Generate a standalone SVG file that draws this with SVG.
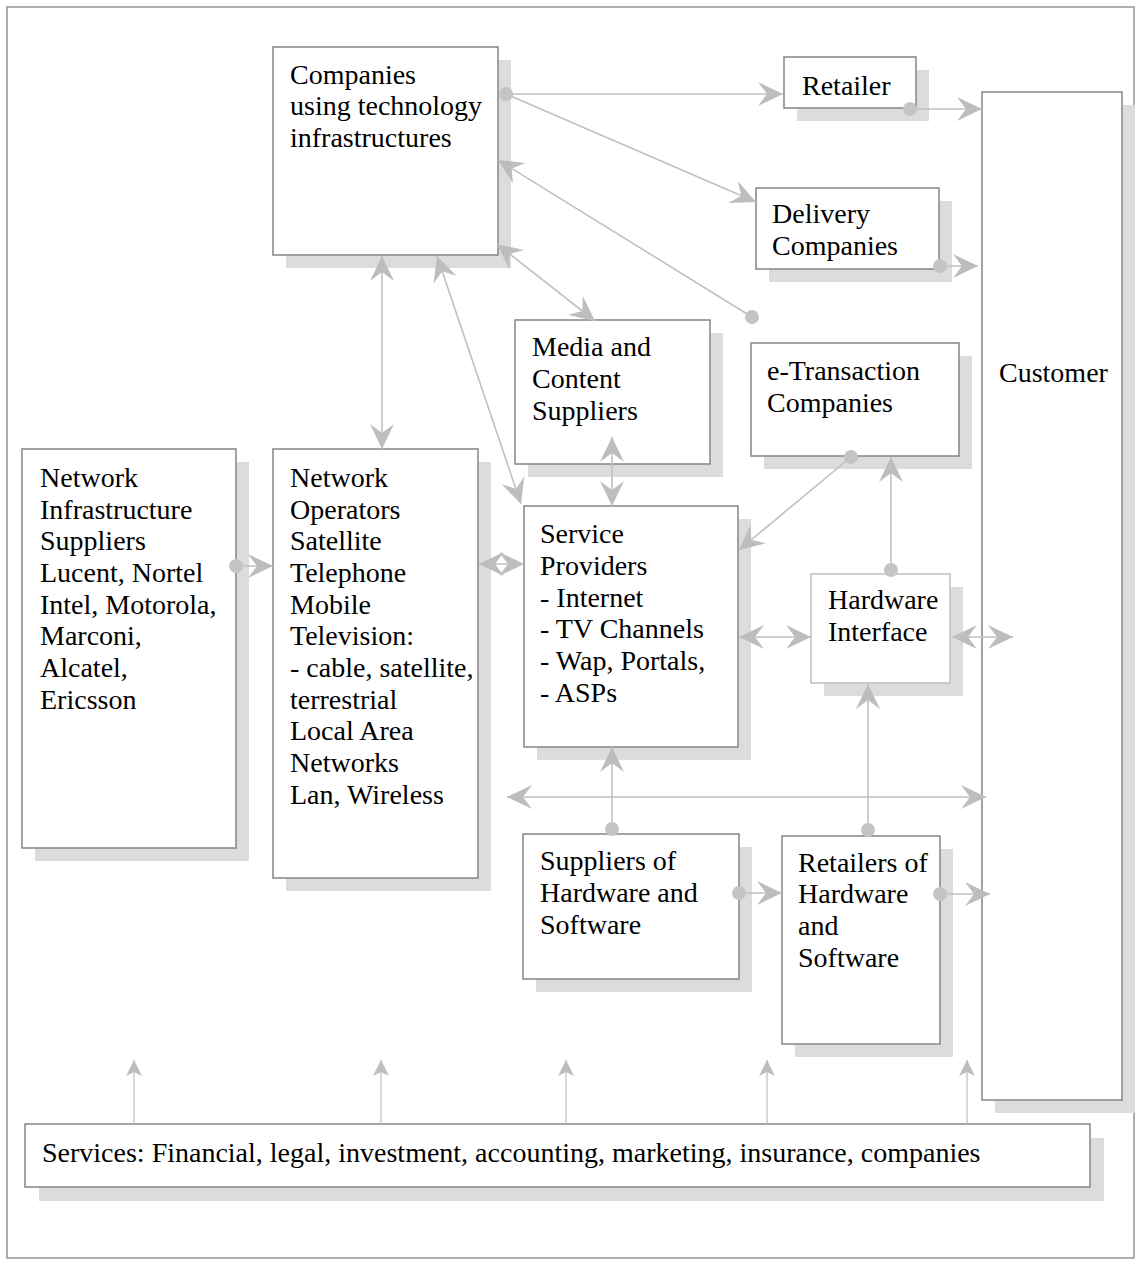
<svg xmlns="http://www.w3.org/2000/svg" width="1140" height="1261" viewBox="0 0 1140 1261">
  <style>
    .box { fill: #ffffff; stroke: #8c8c8c; stroke-width: 1.6; }
    .box.light { stroke: #c2c2c2; }
    .shadow { fill: #dcdcdc; stroke: none; }
    .t { font-family: "Liberation Serif", "Times New Roman", serif; font-size: 28px; fill: #000000; }
    .ln { stroke: #c0c0c0; stroke-width: 1.6; fill: none; }
    .one { marker-end: url(#ah); }
    .two { marker-start: url(#ah); marker-end: url(#ah); }
    .up { stroke-width: 1.2; marker-end: url(#ahs); }
    .dot { fill: #c4c4c4; }
  </style>
  <defs>
    <marker id="ah" viewBox="-26 -14 28 28" refX="0" refY="0" markerWidth="28" markerHeight="28" markerUnits="userSpaceOnUse" orient="auto-start-reverse">
      <path d="M0,0 L-25,-12 L-16,0 L-25,12 Z" fill="#bdbdbd"/>
    </marker>
    <marker id="ahs" viewBox="-18 -10 20 20" refX="0" refY="0" markerWidth="20" markerHeight="20" markerUnits="userSpaceOnUse" orient="auto">
      <path d="M0,0 L-16,-8 L-12,0 L-16,8 Z" fill="#bdbdbd"/>
    </marker>
  </defs>

  <!-- outer frame -->
  <rect x="7" y="7" width="1127" height="1251" fill="#ffffff" stroke="#9a9a9a" stroke-width="1.6"/>

  <g id="companies">
    <rect class="shadow" x="286" y="60" width="225" height="208"/>
    <rect class="box" x="273" y="47" width="225" height="208"/>
    <text class="t" x="290" y="84">Companies</text>
    <text class="t" x="290" y="115">using technology</text>
    <text class="t" x="290" y="147">infrastructures</text>
  </g>

  <g id="retailer">
    <rect class="shadow" x="797" y="70" width="132" height="51"/>
    <rect class="box" x="784" y="57" width="132" height="51"/>
    <text class="t" x="802" y="95">Retailer</text>
  </g>

  <g id="delivery">
    <rect class="shadow" x="769" y="201" width="183" height="81"/>
    <rect class="box" x="756" y="188" width="183" height="81"/>
    <text class="t" x="772" y="223">Delivery</text>
    <text class="t" x="772" y="255">Companies</text>
  </g>

  <g id="customer">
    <rect class="shadow" x="995" y="105" width="140" height="1008"/>
    <rect class="box" x="982" y="92" width="140" height="1008"/>
    <text class="t" x="999" y="382">Customer</text>
  </g>

  <g id="media">
    <rect class="shadow" x="528" y="333" width="195" height="144"/>
    <rect class="box" x="515" y="320" width="195" height="144"/>
    <text class="t" x="532" y="356">Media and</text>
    <text class="t" x="532" y="388">Content</text>
    <text class="t" x="532" y="420">Suppliers</text>
  </g>

  <g id="etransaction">
    <rect class="shadow" x="764" y="356" width="208" height="113"/>
    <rect class="box" x="751" y="343" width="208" height="113"/>
    <text class="t" x="767" y="380">e-Transaction</text>
    <text class="t" x="767" y="412">Companies</text>
  </g>

  <g id="network-infrastructure">
    <rect class="shadow" x="35" y="462" width="214" height="399"/>
    <rect class="box" x="22" y="449" width="214" height="399"/>
    <text class="t" x="40" y="487">Network</text>
    <text class="t" x="40" y="519">Infrastructure</text>
    <text class="t" x="40" y="550">Suppliers</text>
    <text class="t" x="40" y="582">Lucent, Nortel</text>
    <text class="t" x="40" y="614">Intel, Motorola,</text>
    <text class="t" x="40" y="645">Marconi,</text>
    <text class="t" x="40" y="677">Alcatel,</text>
    <text class="t" x="40" y="709">Ericsson</text>
  </g>

  <g id="network-operators">
    <rect class="shadow" x="286" y="462" width="205" height="429"/>
    <rect class="box" x="273" y="449" width="205" height="429"/>
    <text class="t" x="290" y="487">Network</text>
    <text class="t" x="290" y="519">Operators</text>
    <text class="t" x="290" y="550">Satellite</text>
    <text class="t" x="290" y="582">Telephone</text>
    <text class="t" x="290" y="614">Mobile</text>
    <text class="t" x="290" y="645">Television:</text>
    <text class="t" x="290" y="677">- cable, satellite,</text>
    <text class="t" x="290" y="709">terrestrial</text>
    <text class="t" x="290" y="740">Local Area</text>
    <text class="t" x="290" y="772">Networks</text>
    <text class="t" x="290" y="804">Lan, Wireless</text>
  </g>

  <g id="service-providers">
    <rect class="shadow" x="537" y="519" width="214" height="241"/>
    <rect class="box" x="524" y="506" width="214" height="241"/>
    <text class="t" x="540" y="543">Service</text>
    <text class="t" x="540" y="575">Providers</text>
    <text class="t" x="540" y="607">- Internet</text>
    <text class="t" x="540" y="638">- TV Channels</text>
    <text class="t" x="540" y="670">- Wap, Portals,</text>
    <text class="t" x="540" y="702">- ASPs</text>
  </g>

  <g id="hardware-interface">
    <rect class="shadow" x="824" y="587" width="139" height="109"/>
    <rect class="box light" x="811" y="574" width="139" height="109"/>
    <text class="t" x="828" y="609">Hardware</text>
    <text class="t" x="828" y="641">Interface</text>
  </g>

  <g id="hw-sw-suppliers">
    <rect class="shadow" x="536" y="847" width="216" height="145"/>
    <rect class="box" x="523" y="834" width="216" height="145"/>
    <text class="t" x="540" y="870">Suppliers of</text>
    <text class="t" x="540" y="902">Hardware and</text>
    <text class="t" x="540" y="934">Software</text>
  </g>

  <g id="hw-sw-retailers">
    <rect class="shadow" x="795" y="849" width="158" height="208"/>
    <rect class="box" x="782" y="836" width="158" height="208"/>
    <text class="t" x="798" y="872">Retailers of</text>
    <text class="t" x="798" y="903">Hardware</text>
    <text class="t" x="798" y="935">and</text>
    <text class="t" x="798" y="967">Software</text>
  </g>

  <g id="services">
    <rect class="shadow" x="39" y="1138" width="1065" height="63"/>
    <rect class="box" x="25" y="1124" width="1065" height="63"/>
    <text class="t" x="42" y="1162">Services: Financial, legal, investment, accounting, marketing, insurance, companies</text>
  </g>

  <g id="connectors">
    <!-- from companies using technology -->
    <line class="ln one" x1="506" y1="94" x2="783" y2="94"/>
    <line class="ln one" x1="506" y1="94" x2="756" y2="202"/>
    <line class="ln one" x1="752" y1="317" x2="498" y2="160"/>
    <line class="ln two" x1="497" y1="244" x2="595" y2="321"/>
    <line class="ln two" x1="382" y1="256" x2="382" y2="449"/>
    <line class="ln two" x1="437" y1="256" x2="521" y2="504"/>
    <line class="ln two" x1="612" y1="437" x2="612" y2="506"/>
    <circle class="dot" cx="506" cy="94" r="7"/>
    <circle class="dot" cx="752" cy="317" r="7"/>

    <!-- into customer -->
    <line class="ln one" x1="910" y1="109" x2="982" y2="109"/>
    <circle class="dot" cx="910" cy="109" r="7"/>
    <line class="ln one" x1="940" y1="266" x2="978" y2="266"/>
    <circle class="dot" cx="940" cy="266" r="7"/>

    <!-- middle row -->
    <line class="ln one" x1="236" y1="566" x2="273" y2="566"/>
    <circle class="dot" cx="236" cy="566" r="7"/>
    <line class="ln two" x1="479" y1="564" x2="524" y2="564"/>
    <line class="ln one" x1="851" y1="457" x2="739" y2="550"/>
    <circle class="dot" cx="851" cy="457" r="7"/>
    <line class="ln one" x1="891" y1="570" x2="891" y2="457"/>
    <circle class="dot" cx="891" cy="570" r="7"/>
    <line class="ln two" x1="739" y1="637" x2="811" y2="637"/>
    <line class="ln two" x1="952" y1="637" x2="1013" y2="637"/>
    <line class="ln two" x1="507" y1="797" x2="986" y2="797"/>

    <!-- hardware and software -->
    <line class="ln one" x1="612" y1="829" x2="612" y2="747"/>
    <circle class="dot" cx="612" cy="829" r="7"/>
    <line class="ln one" x1="868" y1="830" x2="868" y2="684"/>
    <circle class="dot" cx="868" cy="830" r="7"/>
    <line class="ln one" x1="739" y1="893" x2="782" y2="893"/>
    <circle class="dot" cx="739" cy="893" r="7"/>
    <line class="ln one" x1="940" y1="894" x2="990" y2="894"/>
    <circle class="dot" cx="940" cy="894" r="7"/>

    <!-- services support every column -->
    <line class="ln up" x1="134" y1="1124" x2="134" y2="1060"/>
    <line class="ln up" x1="381" y1="1124" x2="381" y2="1060"/>
    <line class="ln up" x1="566" y1="1124" x2="566" y2="1060"/>
    <line class="ln up" x1="767" y1="1124" x2="767" y2="1060"/>
    <line class="ln up" x1="967" y1="1124" x2="967" y2="1060"/>
  </g>
</svg>
